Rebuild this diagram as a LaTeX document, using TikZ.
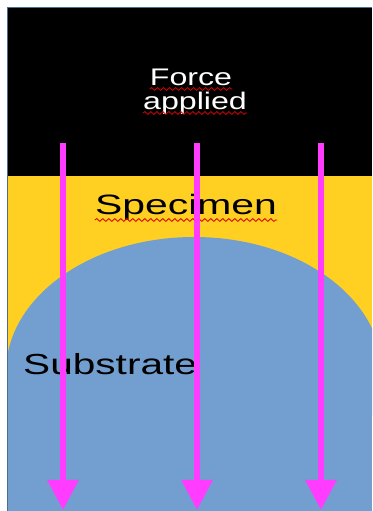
\documentclass[tikz,border=0pt]{standalone}
\usepackage{fontspec}
\setmainfont{Liberation Sans}
\usepackage{xcolor}
\usepackage{tikz}
\usetikzlibrary{arrows.meta, decorations.pathmorphing}

\definecolor{specyellow}{HTML}{FFCF22}
\definecolor{subblue}{HTML}{729FCF}
\definecolor{forcepink}{HTML}{FF3CFF}
\definecolor{frameblue}{HTML}{4A6E96}

\begin{document}
\begin{tikzpicture}[
  x=1pt, y=1pt,
  forcearr/.style = {-{Triangle[length=30pt,width=30pt]}, line width=6pt, forcepink},
  lbl/.style      = {anchor=base, inner sep=0pt},
  spell/.style    = {red!85!black, line width=0.8pt,
                     decorate, decoration={snake, amplitude=1.4pt, segment length=6pt}},
]
\useasboundingbox (0,0) rectangle (372,511);

%% ── Layers ────────────────────────────────────────────────────────
\fill[white] (0,0) rectangle (372,511);
\fill[specyellow] (7,0) rectangle (372,335);
\begin{scope}
  \clip (7,0) rectangle (372,335);
  \fill[subblue] (194,139) ellipse [x radius=188, y radius=135];
  \fill[subblue] (7,0) rectangle (372,139);
\end{scope}
\fill[black] (7,335) rectangle (372,504);
\draw[frameblue, line width=0.9pt] (7,0) -- (7,504) -- (372,504);

%% ── Labels ────────────────────────────────────────────────────────
\node[lbl, white, font=\fontsize{24}{24}\selectfont] (force)   at (191,425) {\scalebox{1.34}[1]{Force}};
\node[lbl, white, font=\fontsize{24}{24}\selectfont] (applied) at (195,401) {\scalebox{1.34}[1]{applied}};
\node[lbl, font=\fontsize{28}{28}\selectfont] (specimen) at (186,296) {\scalebox{1.46}[1]{Specimen}};
\node[lbl, anchor=base west, font=\fontsize{29}{29}\selectfont] (substrate) at (23,136) {\scalebox{1.40}[1]{Substrate}};

%% ── Spell-check marks ─────────────────────────────────────────────
\draw[spell] ([yshift=-3pt]force.base west)    -- ([yshift=-3pt]force.base east);
\draw[spell] ([yshift=-3pt]applied.base west)  -- ([yshift=-3pt]applied.base east);
\draw[spell] ([yshift=-5pt]specimen.base west) -- ([yshift=-5pt]specimen.base east);

%% ── Force arrows ──────────────────────────────────────────────────
\foreach \xa [count=\i] in {63, 197, 321} {
  \coordinate (top\i) at (\xa,368);
  \coordinate (bot\i) at (\xa,1);
  \draw[forcearr] (top\i) -- (bot\i);
}

\end{tikzpicture}
\end{document}
